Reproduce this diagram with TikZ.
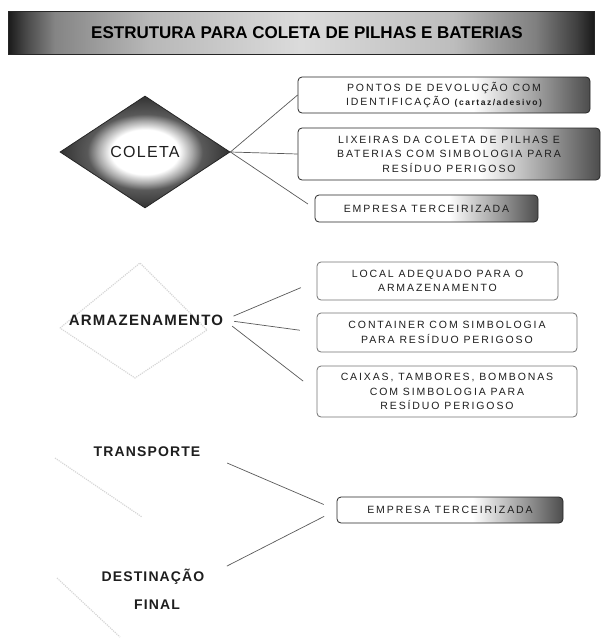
\documentclass[tikz,border=0pt]{standalone}
\usepackage{fontspec}
\setmainfont{Liberation Sans}
\newfontfamily\boxfont[LetterSpace=18]{Liberation Sans}
\newfontfamily\labelfont[LetterSpace=8]{Liberation Sans}
\usetikzlibrary{shapes.geometric}
\definecolor{scanink}{RGB}{30,30,30}
% shadings: the path box is fitted to 25bp..75bp
\pgfdeclarehorizontalshading{boxfade}{100bp}{color(0bp)=(white); color(55bp)=(white); color(66bp)=(black!38); color(75bp)=(black!70); color(100bp)=(black!70)}
\pgfdeclarehorizontalshading{barfade}{100bp}{color(0bp)=(black!90); color(25bp)=(black!90); color(26.5bp)=(black!72); color(29bp)=(black!48); color(37bp)=(black!28); color(50bp)=(black!14); color(63bp)=(black!26); color(70bp)=(black!50); color(73.5bp)=(black!75); color(75bp)=(black!90); color(100bp)=(black!90)}
\pgfdeclareradialshading{diafade}{\pgfpoint{0bp}{0bp}}{color(0bp)=(white); color(10bp)=(white); color(14bp)=(black!35); color(17bp)=(black!65); color(25bp)=(black!80); color(50bp)=(black!80)}

\begin{document}
\begin{tikzpicture}[x=1pt,y=-1pt,
    titlebar/.style={shade,shading=barfade,draw=black!85,line width=0.8pt,minimum width=586pt,minimum height=43pt,inner sep=0pt},
    stage/.style={text=scanink,inner sep=1pt,font=\labelfont\bfseries\fontsize{14}{16}\selectfont},
    item/.style={rounded corners=4pt,line width=0.8pt,align=center,inner sep=0pt,text=scanink,font=\boxfont\fontsize{10.5}{14.5}\selectfont},
    itemfade/.style={item,draw=black!85,shade,shading=boxfade},
    itemplain/.style={item,draw=black!55,fill=white},
    link/.style={draw=black!65,line width=0.7pt},
    ghost/.style={draw=black!16,line width=1.2pt,densely dotted}]
  \useasboundingbox (0,0) rectangle (603,643);
  % title bar
  \node[titlebar] (title) at (301,33) {};
  \node[font=\bfseries\fontsize{17}{19}\selectfont] (titletext) at (title.center) [xshift=6pt] {ESTRUTURA PARA COLETA DE PILHAS E BATERIAS};

  % collection: shaded diamond and its three boxes
  \node[diamond,shade,shading=diafade,draw=black!85,line width=0.8pt,minimum width=170pt,minimum height=112pt,inner sep=0pt,
        text=scanink,font=\labelfont\fontsize{16}{18}\selectfont] (coleta) at (145,152) {COLETA};
  \node[itemfade,minimum width=292pt,minimum height=36pt] (pontos) at (444,95)
    {PONTOS DE DEVOLUÇÃO COM\\IDENTIFICAÇÃO {\bfseries\fontsize{8.5}{14.5}\selectfont(cartaz/adesivo)}};
  \node[itemfade,minimum width=302pt,minimum height=52pt] (lixeiras) at (449,154)
    {LIXEIRAS DA COLETA DE PILHAS E\\BATERIAS COM SIMBOLOGIA PARA\\RESÍDUO PERIGOSO};
  \node[itemfade,minimum width=223pt,minimum height=27pt] (terceira) at (426.5,208.5) {EMPRESA TERCEIRIZADA};
  \draw[link] (coleta.east) -- (pontos.west);
  \draw[link] (coleta.east) -- (lixeiras.west);
  \draw[link,shorten >=8pt] (coleta.east) -- (terceira.west);

  % storage: faded diamond, label and boxes
  \draw[ghost] (60,328) -- (140,263) -- (207,330) -- (135,378) -- cycle;
  \node[stage,font=\labelfont\bfseries\fontsize{15}{17}\selectfont] (armz) at (146,320) {ARMAZENAMENTO};
  \node[itemplain,minimum width=241pt,minimum height=38pt] (local) at (437.5,281) {LOCAL ADEQUADO PARA O\\ARMAZENAMENTO};
  \node[itemplain,minimum width=260pt,minimum height=39pt] (container) at (447,332.5) {CONTAINER COM SIMBOLOGIA\\PARA RESÍDUO PERIGOSO};
  \node[itemplain,minimum width=260pt,minimum height=51pt] (caixas) at (447,391.5) {CAIXAS, TAMBORES, BOMBONAS\\COM SIMBOLOGIA PARA\\RESÍDUO PERIGOSO};
  \foreach \b in {local,container,caixas}
    \draw[link,shorten <=10pt,shorten >=17pt] (armz.east) -- (\b.west);

  % transport and final destination share one box
  \draw[ghost] (55,458) -- (142,517);
  \draw[ghost] (57,578) -- (120,637);
  \node[stage] (transp) at (147,452) {TRANSPORTE};
  \node[stage] (destino) at (153,577) {DESTINAÇÃO};
  \node[stage] (final) at (157,605) {FINAL};
  \node[itemfade,minimum width=226pt,minimum height=26pt] (terceirab) at (450,510) {EMPRESA TERCEIRIZADA};
  \draw[link,shorten <=28pt,shorten >=14pt] (transp.east) -- (terceirab.west);
  \draw[link,shorten <=24pt,shorten >=14pt] (destino.east) -- (terceirab.west);
\end{tikzpicture}
\end{document}
